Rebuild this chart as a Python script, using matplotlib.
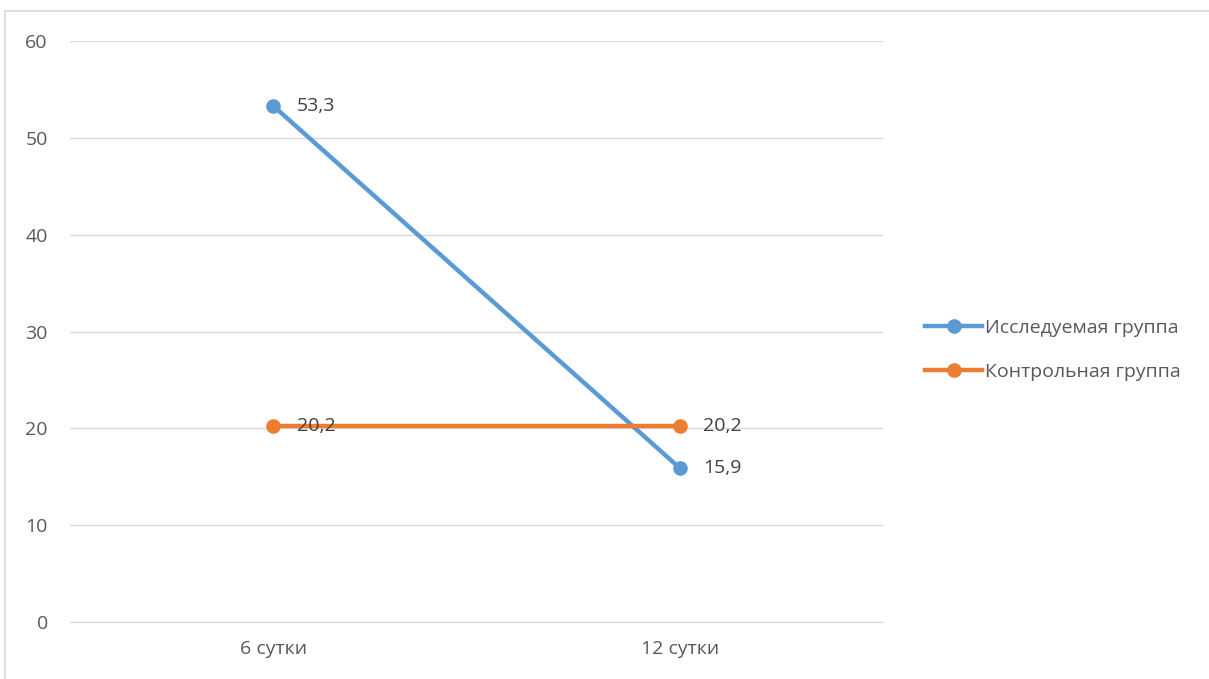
import matplotlib
matplotlib.use("Agg")
import matplotlib.pyplot as plt
from matplotlib.lines import Line2D

categories = ["6 сутки", "12 сутки"]
study_group = [53.3, 15.9]
control_group = [20.2, 20.2]
series_names = ["Исследуемая группа", "Контрольная группа"]
y_ticks = [0, 10, 20, 30, 40, 50, 60]

BLUE = "#5B9BD5"
ORANGE = "#ED7D31"
TEXT = "#595959"
GRID = "#D9D9D9"
FS = 14

plt.rcParams["font.family"] = ["Open Sans", "DejaVu Sans"]

fig = plt.figure(figsize=(12.09, 6.79), dpi=100)
ax = fig.add_axes([0.0579, 0.0839, 0.6725, 0.8557])

x = list(range(len(categories)))
ax.plot(x, study_group, color=BLUE, lw=3.2, marker="o", ms=9.5,
        solid_capstyle="round", zorder=3)
ax.plot(x, control_group, color=ORANGE, lw=3.2, marker="o", ms=9.5,
        solid_capstyle="round", zorder=4)

for series in (study_group, control_group):
    for xi, v in zip(x, series):
        ax.annotate(f"{v:.1f}".replace(".", ","), (xi, v), xytext=(17, 0),
                    textcoords="offset points", va="center", ha="left",
                    fontsize=FS, color="#404040", zorder=5)

ax.set_xlim(-0.5, 1.5)
ax.set_ylim(0, 60)
ax.set_yticks(y_ticks)
ax.set_xticks(x)
ax.set_xticklabels(categories)
ax.grid(axis="y", color=GRID, lw=1.0)
ax.set_axisbelow(True)
for s in ["top", "right", "left"]:
    ax.spines[s].set_visible(False)
ax.spines["bottom"].set_color(GRID)
ax.tick_params(axis="both", length=0, labelsize=FS, colors=TEXT)
ax.tick_params(axis="y", pad=16)
ax.tick_params(axis="x", pad=13)

handles = [
    Line2D([], [], color=BLUE, lw=3.2, marker="o", ms=9.5),
    Line2D([], [], color=ORANGE, lw=3.2, marker="o", ms=9.5),
]
leg = fig.legend(handles, series_names, loc="center left",
                 bbox_to_anchor=(0.751, 0.485), frameon=False,
                 fontsize=FS, handlelength=2.9, handletextpad=0.15,
                 labelspacing=1.35)
for t in leg.get_texts():
    t.set_color(TEXT)

# chart area border (top and left edges)
fig.add_artist(Line2D([0.004, 1.0], [0.984, 0.984], color="#D9D9D9", lw=1.2,
                      transform=fig.transFigure))
fig.add_artist(Line2D([0.004, 0.004], [0.0, 0.984], color="#D9D9D9", lw=1.2,
                      transform=fig.transFigure))

fig.savefig("out.png", dpi=100, facecolor="white")
